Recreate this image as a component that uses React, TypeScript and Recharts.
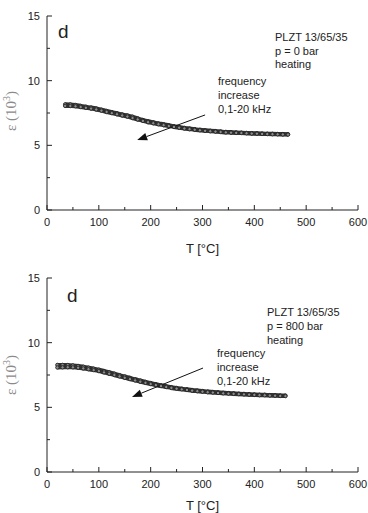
import { LineChart, Line, XAxis, YAxis, ReferenceLine } from "recharts";

const X_TICKS = [0, 50, 100, 150, 200, 250, 300, 350, 400, 450, 500, 550, 600];
const Y_TICKS = [0, 2.5, 5, 7.5, 10, 12.5, 15];

// p = 0 bar, 0.1 kHz
const T_TOP_LF = [35, 45, 55, 65, 75, 85, 95, 105, 115, 125, 135, 145, 155, 165, 175, 185, 195, 205, 215, 225, 235, 245, 255, 265, 275, 285, 295, 305, 315, 325, 335, 345, 355, 365, 375, 385, 395, 405, 415, 425, 435, 445, 455, 465];
const EPS_TOP_LF = [8.17, 8.16, 8.12, 8.05, 7.98, 7.92, 7.85, 7.76, 7.66, 7.57, 7.48, 7.39, 7.31, 7.21, 7.08, 6.96, 6.86, 6.78, 6.7, 6.63, 6.55, 6.48, 6.41, 6.35, 6.3, 6.25, 6.2, 6.16, 6.13, 6.1, 6.07, 6.04, 6.02, 6.0, 5.98, 5.96, 5.94, 5.93, 5.91, 5.9, 5.89, 5.88, 5.87, 5.86];
// p = 0 bar, 20 kHz
const T_TOP_HF = [35, 45, 55, 65, 75, 85, 95, 105, 115, 125, 135, 145, 155, 165, 175, 185, 195, 205, 215, 225, 235, 245, 255, 265, 275, 285, 295, 305, 315, 325, 335, 345, 355, 365, 375, 385, 395, 405, 415, 425, 435, 445, 455, 465];
const EPS_TOP_HF = [8.05, 8.04, 8.02, 7.96, 7.9, 7.84, 7.77, 7.68, 7.58, 7.49, 7.4, 7.31, 7.22, 7.11, 7.0, 6.89, 6.79, 6.71, 6.63, 6.56, 6.49, 6.42, 6.36, 6.3, 6.25, 6.2, 6.16, 6.12, 6.09, 6.06, 6.03, 6.0, 5.98, 5.96, 5.95, 5.93, 5.91, 5.9, 5.88, 5.87, 5.86, 5.85, 5.84, 5.83];

// p = 800 bar, 0.1 kHz
const T_BOT_LF = [20, 30, 40, 50, 60, 70, 80, 90, 100, 110, 120, 130, 140, 150, 160, 170, 180, 190, 200, 210, 220, 230, 240, 250, 260, 270, 280, 290, 300, 310, 320, 330, 340, 350, 360, 370, 380, 390, 400, 410, 420, 430, 440, 450, 460];
const EPS_BOT_LF = [8.28, 8.28, 8.27, 8.24, 8.2, 8.14, 8.07, 7.99, 7.91, 7.81, 7.71, 7.6, 7.49, 7.38, 7.28, 7.17, 7.07, 6.97, 6.88, 6.79, 6.71, 6.63, 6.56, 6.5, 6.44, 6.39, 6.34, 6.3, 6.26, 6.22, 6.19, 6.16, 6.13, 6.1, 6.08, 6.06, 6.04, 6.02, 6.0, 5.98, 5.97, 5.95, 5.94, 5.92, 5.91];
// p = 800 bar, 20 kHz
const T_BOT_HF = [20, 30, 40, 50, 60, 70, 80, 90, 100, 110, 120, 130, 140, 150, 160, 170, 180, 190, 200, 210, 220, 230, 240, 250, 260, 270, 280, 290, 300, 310, 320, 330, 340, 350, 360, 370, 380, 390, 400, 410, 420, 430, 440, 450, 460];
const EPS_BOT_HF = [8.08, 8.09, 8.1, 8.09, 8.06, 8.01, 7.95, 7.88, 7.8, 7.7, 7.6, 7.5, 7.39, 7.28, 7.18, 7.08, 6.98, 6.89, 6.8, 6.72, 6.64, 6.57, 6.5, 6.44, 6.39, 6.34, 6.29, 6.25, 6.21, 6.17, 6.14, 6.11, 6.08, 6.06, 6.04, 6.02, 6.0, 5.98, 5.96, 5.94, 5.93, 5.91, 5.9, 5.88, 5.87];

const zip = (t: number[], e: number[]) => t.map((x, i) => ({ t: x, eps: e[i] }));

const FONT = "'Liberation Sans', Arial, sans-serif";
const INK = "#222";
const MAJOR = 5;
const MINOR = 3;

// ticks point inward; major ticks are longer and carry the labels
const BottomTick = ({ x, y, payload }: any) => {
  const major = payload.value % 100 === 0;
  return (
    <g>
      <line x1={x} x2={x} y1={y} y2={y - (major ? MAJOR : MINOR)} stroke={INK} />
      {major && (
        <text x={x} y={y + 16} textAnchor="middle" fontSize={11} fill={INK} fontFamily={FONT}>
          {payload.value}
        </text>
      )}
    </g>
  );
};
const TopTick = ({ x, y, payload }: any) => {
  const major = payload.value % 100 === 0;
  return <line x1={x} x2={x} y1={y} y2={y + (major ? MAJOR : MINOR)} stroke={INK} />;
};
const LeftTick = ({ x, y, payload }: any) => {
  const major = payload.value % 5 === 0;
  return (
    <g>
      <line x1={x} x2={x + (major ? MAJOR : MINOR)} y1={y} y2={y} stroke={INK} />
      {major && (
        <text x={x - 7} y={y + 4} textAnchor="end" fontSize={11} fill={INK} fontFamily={FONT}>
          {payload.value}
        </text>
      )}
    </g>
  );
};
const RightTick = ({ x, y, payload }: any) => {
  const major = payload.value % 5 === 0;
  return <line x1={x} x2={x - (major ? MAJOR : MINOR)} y1={y} y2={y} stroke={INK} />;
};

const Arrow = (props: any) => {
  const { x1, y1, x2, y2 } = props;
  if (x1 == null) return null;
  const a = Math.atan2(y2 - y1, x2 - x1);
  const len = 10;
  const w = 3.8;
  const bx = x2 - len * Math.cos(a);
  const by = y2 - len * Math.sin(a);
  const px = -Math.sin(a) * w;
  const py = Math.cos(a) * w;
  return (
    <g>
      <line x1={x1} y1={y1} x2={bx} y2={by} stroke="#111" strokeWidth={1} />
      <polygon points={`${x2},${y2} ${bx + px},${by + py} ${bx - px},${by - py}`} fill="#111" />
    </g>
  );
};

type PanelProps = {
  top: number;
  marginTop: number;
  xAxisH: number;
  low: { t: number; eps: number }[];
  high: { t: number; eps: number }[];
  arrow: [{ x: number; y: number }, { x: number; y: number }];
  labelOffset: number;
};

const bandDot = { r: 1.7, stroke: "#222", strokeWidth: 0.9, fill: "#8c8c8c" };

const Panel = ({ top, marginTop, xAxisH, low, high, arrow, labelOffset }: PanelProps) => (
  <div style={{ position: "absolute", left: 0, top }}>
    <LineChart width={368} height={256} margin={{ top: marginTop, right: 10, left: 0, bottom: 0 }}>
      <XAxis
        xAxisId="b"
        dataKey="t"
        type="number"
        domain={[0, 600]}
        ticks={X_TICKS}
        interval={0}
        tickLine={false}
        tickSize={0}
        tickMargin={0}
        height={xAxisH}
        stroke={INK}
        tick={<BottomTick />}
        label={{ value: "T [°C]", position: "insideBottom", offset: labelOffset, fontSize: 13, fill: INK, fontFamily: FONT }}
      />
      <XAxis xAxisId="t" orientation="top" dataKey="t" type="number" domain={[0, 600]} ticks={X_TICKS} interval={0} tickLine={false} tickSize={0} tickMargin={0} tick={<TopTick />} height={0} stroke={INK} />
      <YAxis
        yAxisId="l"
        type="number"
        domain={[0, 15]}
        ticks={Y_TICKS}
        interval={0}
        tickLine={false}
        tickSize={0}
        tickMargin={0}
        width={47}
        stroke={INK}
        tick={<LeftTick />}
      />
      <YAxis yAxisId="r" orientation="right" type="number" domain={[0, 15]} ticks={Y_TICKS} interval={0} tickLine={false} tickSize={0} tickMargin={0} tick={<RightTick />} width={0} stroke={INK} />
      <Line data={low} xAxisId="t" yAxisId="r" dataKey="eps" stroke="none" dot={false} isAnimationActive={false} />
      <Line data={low} xAxisId="b" yAxisId="l" dataKey="eps" type="monotone" stroke="#333" strokeWidth={4} dot={bandDot} isAnimationActive={false} />
      <Line data={high} xAxisId="b" yAxisId="l" dataKey="eps" type="monotone" stroke="#333" strokeWidth={4} dot={bandDot} isAnimationActive={false} />
      <ReferenceLine xAxisId="b" yAxisId="l" segment={arrow} shape={Arrow} ifOverflow="visible" />
    </LineChart>
  </div>
);

const YTitle = ({ cx, cy }: { cx: number; cy: number }) => (
  <text
    x={cx}
    y={cy}
    transform={`rotate(-90 ${cx} ${cy})`}
    textAnchor="middle"
    fontFamily="'Liberation Serif', 'Times New Roman', serif"
    fontSize={15}
    fill="#8a8a8a"
  >
    <tspan>ε (10</tspan>
    <tspan dy={-6} fontSize={10}>3</tspan>
    <tspan dy={6}>)</tspan>
  </text>
);

const App = () => (
  <div style={{ position: "absolute", left: 0, top: 0, width: 368, height: 513, background: "#fff", overflow: "hidden" }}>
    <Panel
      top={0}
      marginTop={16}
      xAxisH={46}
      low={zip(T_TOP_LF, EPS_TOP_LF)}
      high={zip(T_TOP_HF, EPS_TOP_HF)}
      arrow={[{ x: 305, y: 7.35 }, { x: 174, y: 5.41 }]}
      labelOffset={3}
    />
    <Panel
      top={257}
      marginTop={21}
      xAxisH={41}
      low={zip(T_BOT_LF, EPS_BOT_LF)}
      high={zip(T_BOT_HF, EPS_BOT_HF)}
      arrow={[{ x: 301, y: 8.04 }, { x: 164, y: 5.8 }]}
      labelOffset={3}
    />
    <svg width={368} height={513} style={{ position: "absolute", left: 0, top: 0, pointerEvents: "none" }}>
      <g fontFamily={FONT} fill={INK}>
        <text x={58} y={38} fontSize={19}>d</text>
        <text x={275} y={41} fontSize={11}>PLZT 13/65/35</text>
        <text x={275} y={54.5} fontSize={11}>p = 0 bar</text>
        <text x={275} y={68} fontSize={11}>heating</text>
        <text x={218} y={84.5} fontSize={11}>frequency</text>
        <text x={218} y={99} fontSize={11}>increase</text>
        <text x={218} y={113} fontSize={11}>0,1-20 kHz</text>

        <text x={67} y={301.5} fontSize={19}>d</text>
        <text x={267} y={315.5} fontSize={11}>PLZT 13/65/35</text>
        <text x={267} y={330} fontSize={11}>p = 800 bar</text>
        <text x={267} y={343.5} fontSize={11}>heating</text>
        <text x={217} y={356.5} fontSize={11}>frequency</text>
        <text x={217} y={370.5} fontSize={11}>increase</text>
        <text x={217} y={384.5} fontSize={11}>0,1-20 kHz</text>
      </g>
      <YTitle cx={16} cy={111} />
      <YTitle cx={16} cy={375} />
    </svg>
  </div>
);

export default App;
